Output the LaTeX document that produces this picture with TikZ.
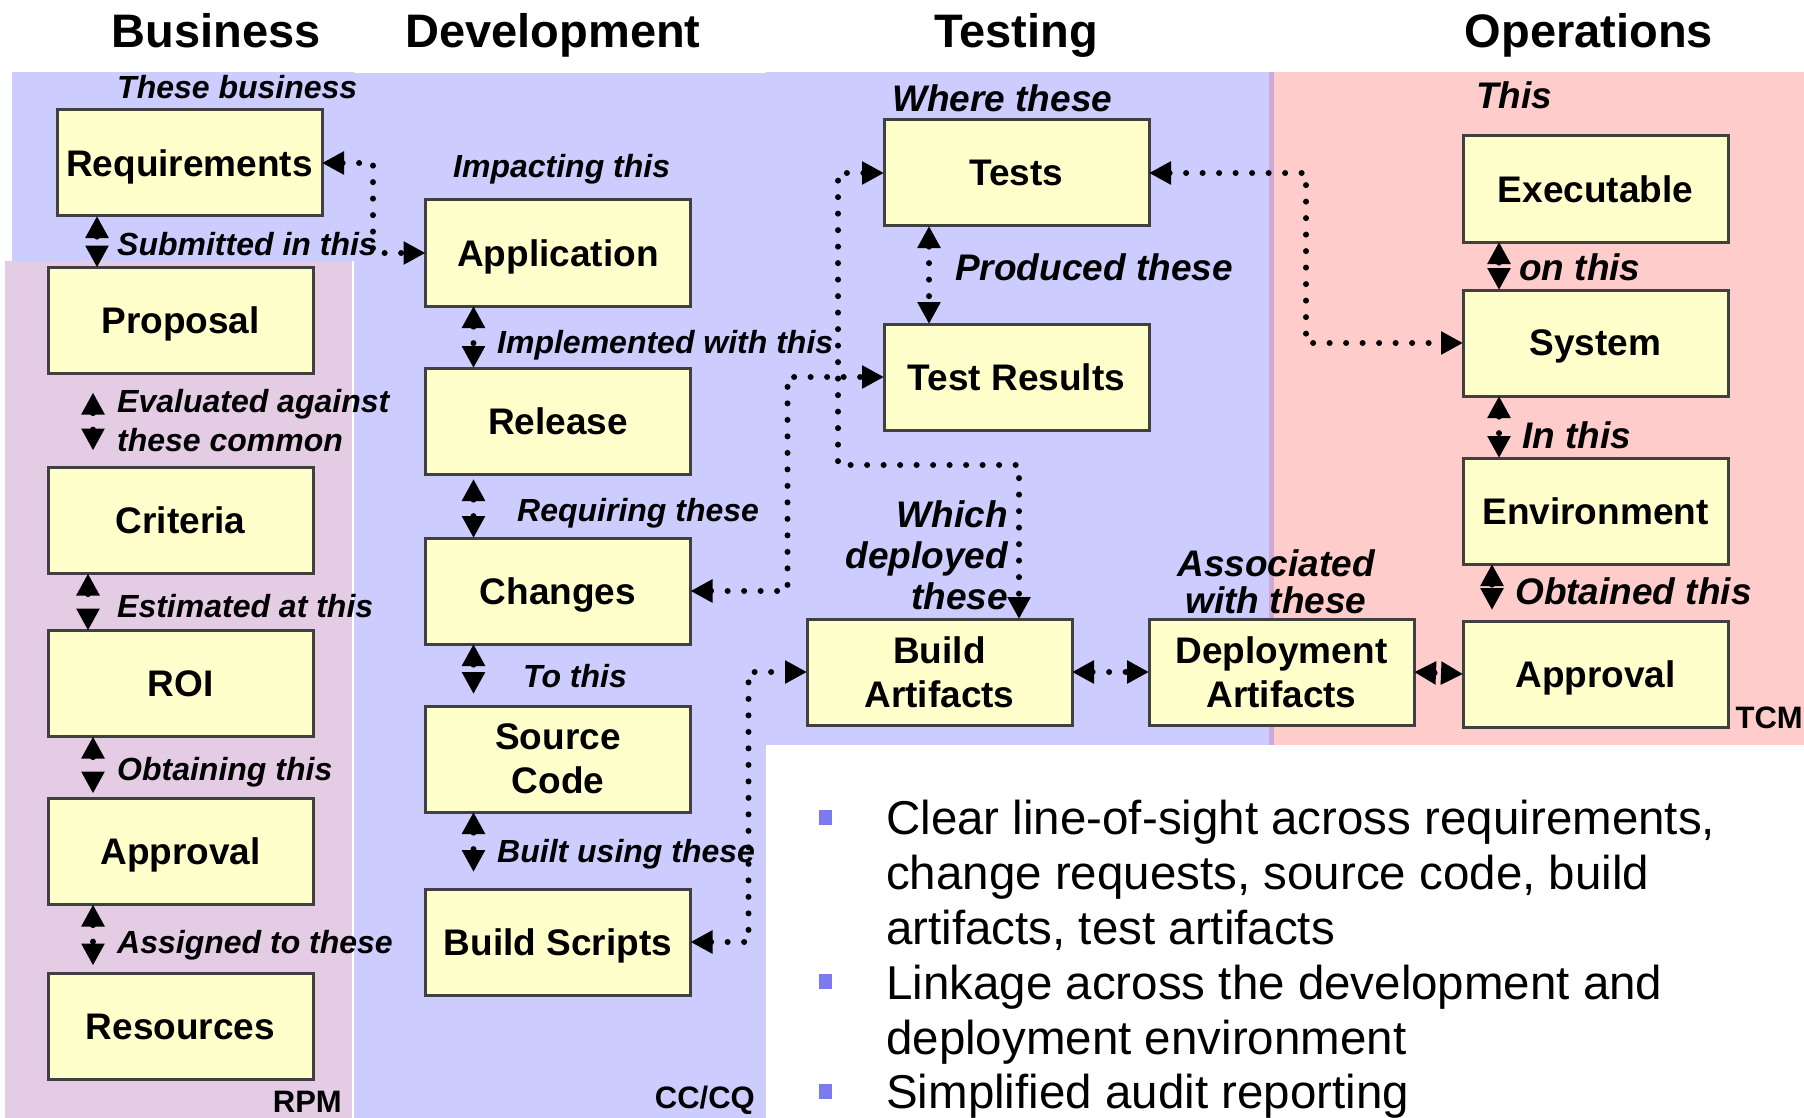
\documentclass[tikz,border=0pt]{standalone}
\usepackage{fontspec}
\setmainfont{Liberation Sans}
\usepackage{tikz}
\usetikzlibrary{positioning,calc,arrows.meta}
\usepackage{xcolor}

\definecolor{laneblue}{HTML}{CCCCFF}
\definecolor{lanepink}{HTML}{FFCCCC}
\definecolor{lanemauve}{HTML}{E5CCE5}
\definecolor{laneedge}{HTML}{D0A8D8}
\definecolor{boxfill}{HTML}{FFFFCC}
\definecolor{boxline}{HTML}{404040}
\definecolor{bulletblue}{HTML}{7B7BEF}

\begin{document}
\begin{tikzpicture}[
    x=1pt, y=-1pt,
    box/.style={rectangle, draw=boxline, line width=3pt, fill=boxfill, minimum width=265pt, minimum height=106pt, inner sep=0pt, outer sep=0pt, text depth=0pt, align=center, font=\fontsize{37}{44}\selectfont\bfseries},
    link/.style={<->, >={Triangle[length=22pt, width=22pt]}, line width=6pt, line cap=round, dash pattern=on 0pt off 16.5pt},
    note/.style={anchor=base west, inner sep=0pt, font=\fontsize{32}{39}\selectfont\bfseries\itshape},
    bignote/.style={note, font=\fontsize{37}{41}\selectfont\bfseries\itshape},
    lane/.style={anchor=base, inner sep=0pt, font=\fontsize{47}{56}\selectfont\bfseries},
    tool/.style={inner sep=0pt, font=\fontsize{31}{37}\selectfont\bfseries},
    point/.style={anchor=base west, inner sep=0pt, align=left, font=\fontsize{47.5}{55}\selectfont},
    dot/.style={rectangle, fill=bulletblue, minimum width=13pt, minimum height=15pt, inner sep=0pt}
]
\useasboundingbox (0,0) rectangle (1804,1118);

% Lane backgrounds
\fill[lanemauve] (5,261) rectangle (352,1118);
\fill[laneblue] (12,72) rectangle (354,261);
\fill[laneblue] (354,73) rectangle (766,1118);
\fill[laneblue] (766,72) rectangle (1272,745);
\fill[lanepink] (1272,72) rectangle (1804,745);
\fill[laneedge] (1269,72) rectangle (1274,745);

% Lane titles
\node[lane] (hbiz) at (216,48) {Business};
\node[lane] (hdev) at (553,48) {Development};
\node[lane] (htest) at (1016,48) {Testing};
\node[lane] (hops) at (1589,48) {Operations};

% Tool names
\node[tool, anchor=base east] (trpm) at (342,1112) {RPM};
\node[tool, anchor=base east] (tccq) at (755,1108) {CC/CQ};
\node[tool, anchor=base east] (ttcm) at (1803,728) {TCM};

% Business column
\node[box] (req) at (189.5,163) {Requirements};
\node[box] (prop) at (180.5,320.5) {Proposal};
\node[box, below=94pt of prop] (crit) {Criteria};
\node[box, below=57pt of crit] (roi) {ROI};
\node[box, below=62pt of roi] (appr) {Approval};
\node[box, below=69pt of appr] (res) {Resources};

% Development column
\node[box] (app) at (558,253) {Application};
\node[box, below=62pt of app] (rel) {Release};
\node[box, below=64pt of rel] (chg) {Changes};
\node[box, below=62pt of chg] (src) {Source\\Code};
\node[box, below=77pt of src] (bs) {Build Scripts};

% Testing column
\node[box] (tests) at (1016.5,173) {Tests};
\node[box, below=98pt of tests] (tres) {Test Results};
\node[box] (ba) at (939.5,672) {Build\\Artifacts};
\node[box, right=77pt of ba] (da) {Deployment\\Artifacts};

% Operations column
\node[box] (exe) at (1595.5,189) {Executable};
\node[box, below=48pt of exe] (sys) {System};
\node[box, below=62pt of sys] (env) {Environment};
\node[box, below=57pt of env] (oappr) {Approval};

% Link labels (multi-line ones sit on their last line)
\node[note] (lbiz) at (117,99) {These business};
\node[note] (lsub) at (117,255) {Submitted in this};
\node[note, align=left] (leval) at (117,451) {Evaluated against\\these common};
\node[note] (lest) at (117,617) {Estimated at this};
\node[note] (lobt) at (117,780) {Obtaining this};
\node[note] (lass) at (117,953) {Assigned to these};
\node[note] (limp) at (453,178) {Impacting this};
\node[note] (limpl) at (497,353) {Implemented with this};
\node[note] (lreq) at (517,521) {Requiring these};
\node[note] (lto) at (523,687) {To this};
\node[note] (lbuilt) at (497,862) {Built using these};
\node[bignote] (lwhere) at (892,112) {Where these};
\node[bignote] (lprod) at (955,280) {Produced these};
\node[bignote, anchor=base east, align=right] (lwhich) at (1008,609) {Which\\deployed\\these};
\node[bignote, anchor=base, align=center, font=\fontsize{37}{37}\selectfont\bfseries\itshape] (lassoc) at (1276,613) {Associated\\with these};
\node[bignote] (lthis) at (1476,109) {This};
\node[bignote] (lon) at (1519,280) {on this};
\node[bignote] (lin) at (1522,448) {In this};
\node[bignote] (lobtd) at (1515,604) {Obtained this};

% Links inside the columns
\draw[link] ([xshift=40pt]req.south west) -- ([xshift=49pt]prop.north west);
\draw[link, shorten <=19pt, shorten >=17pt] ([xshift=45pt]prop.south west) -- ([xshift=45pt]crit.north west);
\draw[link] ([xshift=40pt]crit.south west) -- ([xshift=40pt]roi.north west);
\draw[link, shorten >=5pt] ([xshift=45pt]roi.south west) -- ([xshift=45pt]appr.north west);
\draw[link, shorten >=8pt] ([xshift=45pt]appr.south west) -- ([xshift=45pt]res.north west);
\draw[link] ([xshift=48pt]app.south west) -- ([xshift=48pt]rel.north west);
\draw[link, shorten <=5pt] ([xshift=48pt]rel.south west) -- ([xshift=48pt]chg.north west);
\draw[link, shorten >=12pt] ([xshift=48pt]chg.south west) -- ([xshift=48pt]src.north west);
\draw[link, shorten >=17pt] ([xshift=48pt]src.south west) -- ([xshift=48pt]bs.north west);
\draw[link] ([xshift=45pt]tests.south west) -- ([xshift=45pt]tres.north west);
\draw[link] ([xshift=36pt]exe.south west) -- ([xshift=36pt]sys.north west);
\draw[link] ([xshift=36pt]sys.south west) -- ([xshift=36pt]env.north west);
\draw[link, shorten >=11pt] ([xshift=29pt]env.south west) -- ([xshift=29pt]oappr.north west);

% Links across the lanes
\draw[link] (req.east) -- ++(51pt,0) |- (app.west);
\draw[link] (tests.west) -| (838,465) -| ([xshift=-53pt]ba.north east);
\draw[link] (chg.east) -- ++(97pt,0) |- (tres.west);
\draw[link] (bs.east) -- ++(58pt,0) |- (ba.west);
\draw[link] (tests.east) -- ++(157pt,0) |- (sys.west);
\draw[link] (ba.east) -- (da.west);
\draw[link] (da.east) -- (oappr.west);

% Summary points
\node[dot] (d1) at (825.5,817.5) {};
\node[point] (p1) at (886,944) {Clear line-of-sight across requirements,\\change requests, source code, build\\artifacts, test artifacts};
\node[dot] (d2) at (825.5,981) {};
\node[point] (p2) at (886,1054) {Linkage across the development and\\deployment environment};
\node[dot] (d3) at (825.5,1091) {};
\node[point] (p3) at (886,1108) {Simplified audit reporting};

\end{tikzpicture}
\end{document}
